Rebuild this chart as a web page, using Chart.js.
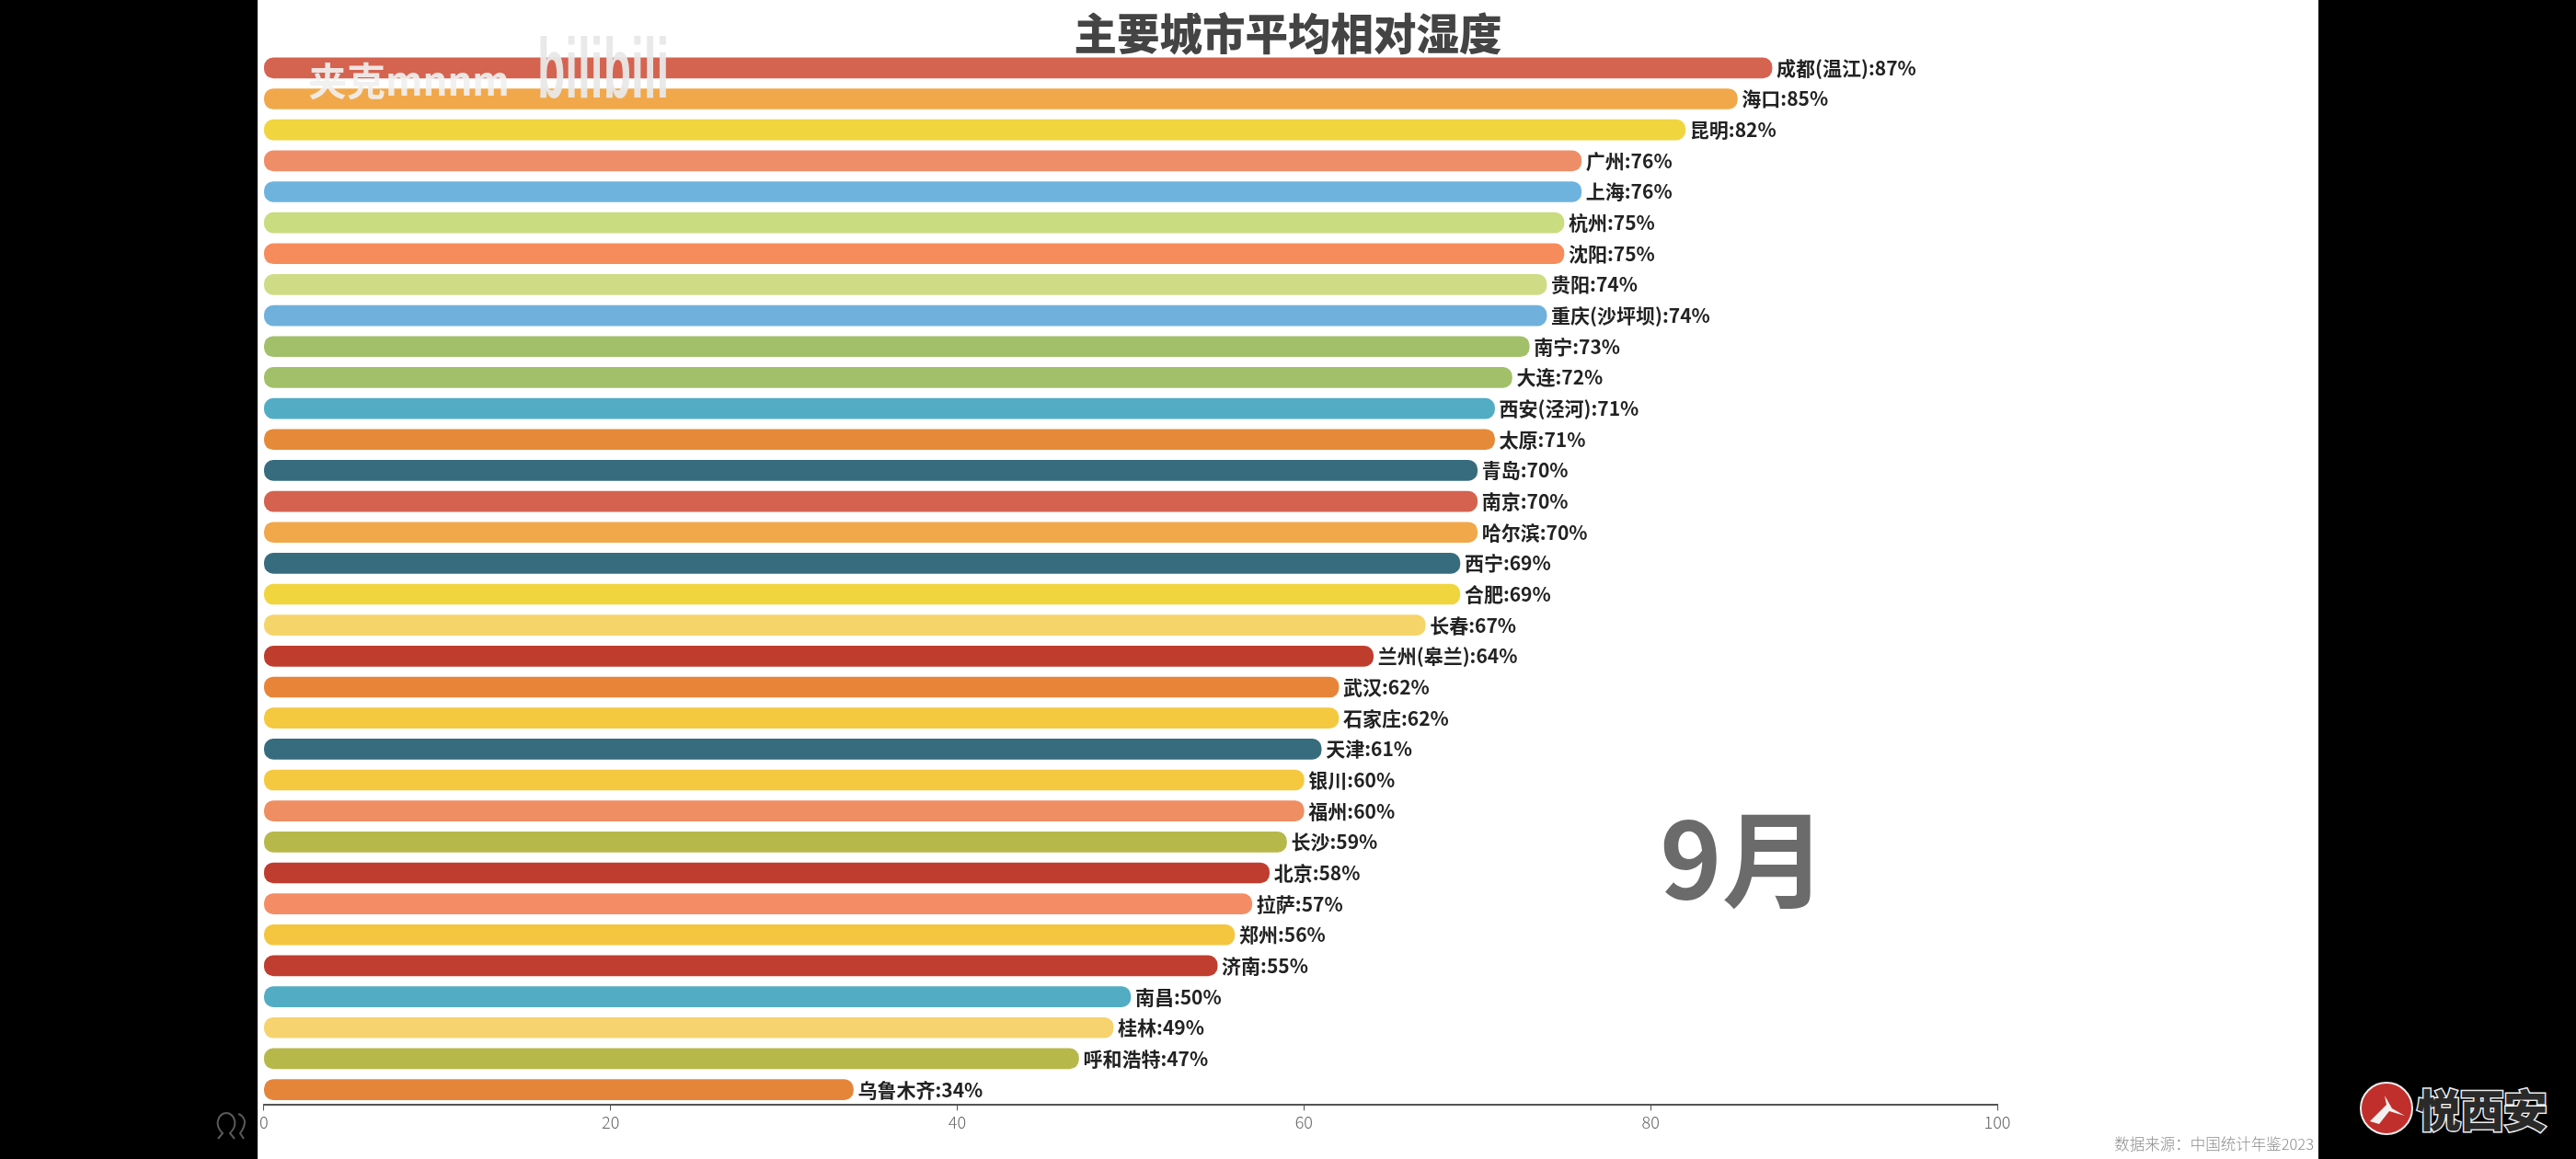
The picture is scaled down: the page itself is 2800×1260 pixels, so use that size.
<!DOCTYPE html>
<html>
<head>
<meta charset="utf-8">
<title>主要城市平均相对湿度</title>
<script src="https://cdn.jsdelivr.net/npm/chart.js@4"></script>
<style>
  html, body { margin: 0; padding: 0; background: #000; width: 2800px; height: 1260px; overflow: hidden; }
  #myChart { position: absolute; left: 280px; top: 0; background: #fff; }
  #people { position: absolute; left: 232px; top: 1208px; }
  #badge { position: absolute; left: 2564px; top: 1175px; }
  #brand {
    position: absolute; left: 2627px; top: 1174px; color: #2a2a2a;
    font: 900 48px/60px "Noto Sans CJK SC"; letter-spacing: -1px;
    -webkit-text-stroke: 3px #eee; paint-order: stroke fill;
  }
</style>
</head>
<body>
<canvas id="myChart" width="2240" height="1260"></canvas>
<svg id="people" width="42" height="32" fill="none" stroke="#5a5a5a" stroke-width="2">
  <path d="M5 30 l5 -6 c-5 -5 -6 -10 -5 -14 c1 -5 5 -8 9 -8 c4 0 8 3 9 8 c1 4 0 9 -5 14 l5 6"/>
  <path d="M27 3 c4 1 6 4 7 8 c0 4 -1 8 -5 13 l4 6"/>
</svg>
<svg id="badge" width="60" height="60">
  <ellipse cx="30" cy="30" rx="28" ry="28" fill="#c12f2c" stroke="#eee" stroke-width="2"/>
  <path d="M12 44 L30 26 L28 16 L36 30 L50 38 L33 33 L22 47 Z" fill="#f1f1f1"/>
</svg>
<div id="brand">悦西安</div>
<script>
var ctx = document.getElementById('myChart').getContext('2d');

const cities = ['成都(温江)', '海口', '昆明', '广州', '上海', '杭州', '沈阳', '贵阳', '重庆(沙坪坝)', '南宁', '大连',
  '西安(泾河)', '太原', '青岛', '南京', '哈尔滨', '西宁', '合肥', '长春', '兰州(皋兰)', '武汉', '石家庄', '天津',
  '银川', '福州', '长沙', '北京', '拉萨', '郑州', '济南', '南昌', '桂林', '呼和浩特', '乌鲁木齐'];
const humidity = [87, 85, 82, 76, 76, 75, 75, 74, 74, 73, 72, 71, 71, 70, 70, 70, 69, 69, 67, 64, 62, 62, 61,
  60, 60, 59, 58, 57, 56, 55, 50, 49, 47, 34];
const barColors = ['#d46350', '#f1a84a', '#f0d53e', '#ee8e68', '#6db3de', '#c9dc80', '#f68c5c', '#cfdc85', '#6fb1dc',
  '#a2c06a', '#a2c06a', '#52acc4', '#e58a39', '#376c7e', '#d4624f', '#f1a84a', '#376c7e', '#f0d53e', '#f5d46a',
  '#bf3d2c', '#e88438', '#f5c93f', '#376c7e', '#f5c93f', '#ee8e62', '#b7b84a', '#bf3d2f', '#f48d66', '#f4c640',
  '#c03e30', '#52acc4', '#f6d36e', '#b7b84a', '#e5853a'];
const xTicks = [0, 20, 40, 60, 80, 100];
const chartTitle = '主要城市平均相对湿度';
const monthLabel = '9月';
const sourceNote = '数据来源：中国统计年鉴2023';
const cjk = '"Noto Sans CJK SC"';

// title, value labels, month, source line and the uploader watermark
const overlayText = {
  id: 'overlayText',
  afterDatasetsDraw(chart) {
    const c = chart.ctx;
    const xs = chart.scales.x;
    const ys = chart.scales.y;
    c.save();
    c.textBaseline = 'middle';
    c.textAlign = 'center';
    c.fillStyle = '#444';
    c.font = '900 46.5px ' + cjk;
    c.fillText(chartTitle, 1120, 36);

    c.textAlign = 'left';
    c.fillStyle = '#222';
    c.font = 'bold 21px ' + cjk;
    cities.forEach(function(city, i) {
      c.fillText(city + ':' + humidity[i] + '%', xs.getPixelForValue(humidity[i]) + 5, ys.getPixelForValue(i));
    });

    c.fillStyle = '#6b6b6b';
    c.font = 'bold 114px ' + cjk;
    c.textAlign = 'center';
    c.fillText(monthLabel, 1615, 934);

    c.fillStyle = '#8c8c8c';
    c.font = '300 16.5px ' + cjk;
    c.textAlign = 'right';
    c.fillText(sourceNote, 2235, 1244);

    c.fillStyle = 'rgba(240,240,240,0.92)';
    c.textAlign = 'left';
    c.font = 'bold 42px ' + cjk;
    c.fillText('夹克mnnm', 55, 88);
    // stretched tall and narrow like the logo in the video
    c.translate(304, 80);
    c.scale(0.8, 1.5);
    c.fillStyle = 'rgba(232,232,232,0.95)';
    c.font = 'bold 62px "Liberation Sans"';
    c.fillText('bilibili', 0, 0);
    c.restore();
  }
};

var chart = new Chart(ctx, {
  type: 'bar',
  data: {
    labels: cities,
    datasets: [{
      data: humidity,
      backgroundColor: barColors,
      borderRadius: 10,
      borderSkipped: false,
      barThickness: 22
    }]
  },
  options: {
    indexAxis: 'y',
    responsive: false,
    animation: false,
    layout: { autoPadding: false, padding: { top: 57, right: 349 } },
    plugins: {
      legend: { display: false },
      tooltip: { enabled: false }
    },
    scales: {
      x: {
        min: 0,
        max: 100,
        afterBuildTicks(axis) { axis.ticks = xTicks.map(function(v) { return { value: v }; }); },
        afterFit(axis) { axis.height = 58.6; },
        border: { color: '#555', width: 2 },
        grid: { drawOnChartArea: false, color: '#555', tickLength: 6 },
        ticks: { color: '#666', padding: 2, maxRotation: 0, font: { family: cjk, size: 18, weight: '300' } }
      },
      y: { display: false }
    }
  },
  plugins: [overlayText]
});
</script>
</body>
</html>
